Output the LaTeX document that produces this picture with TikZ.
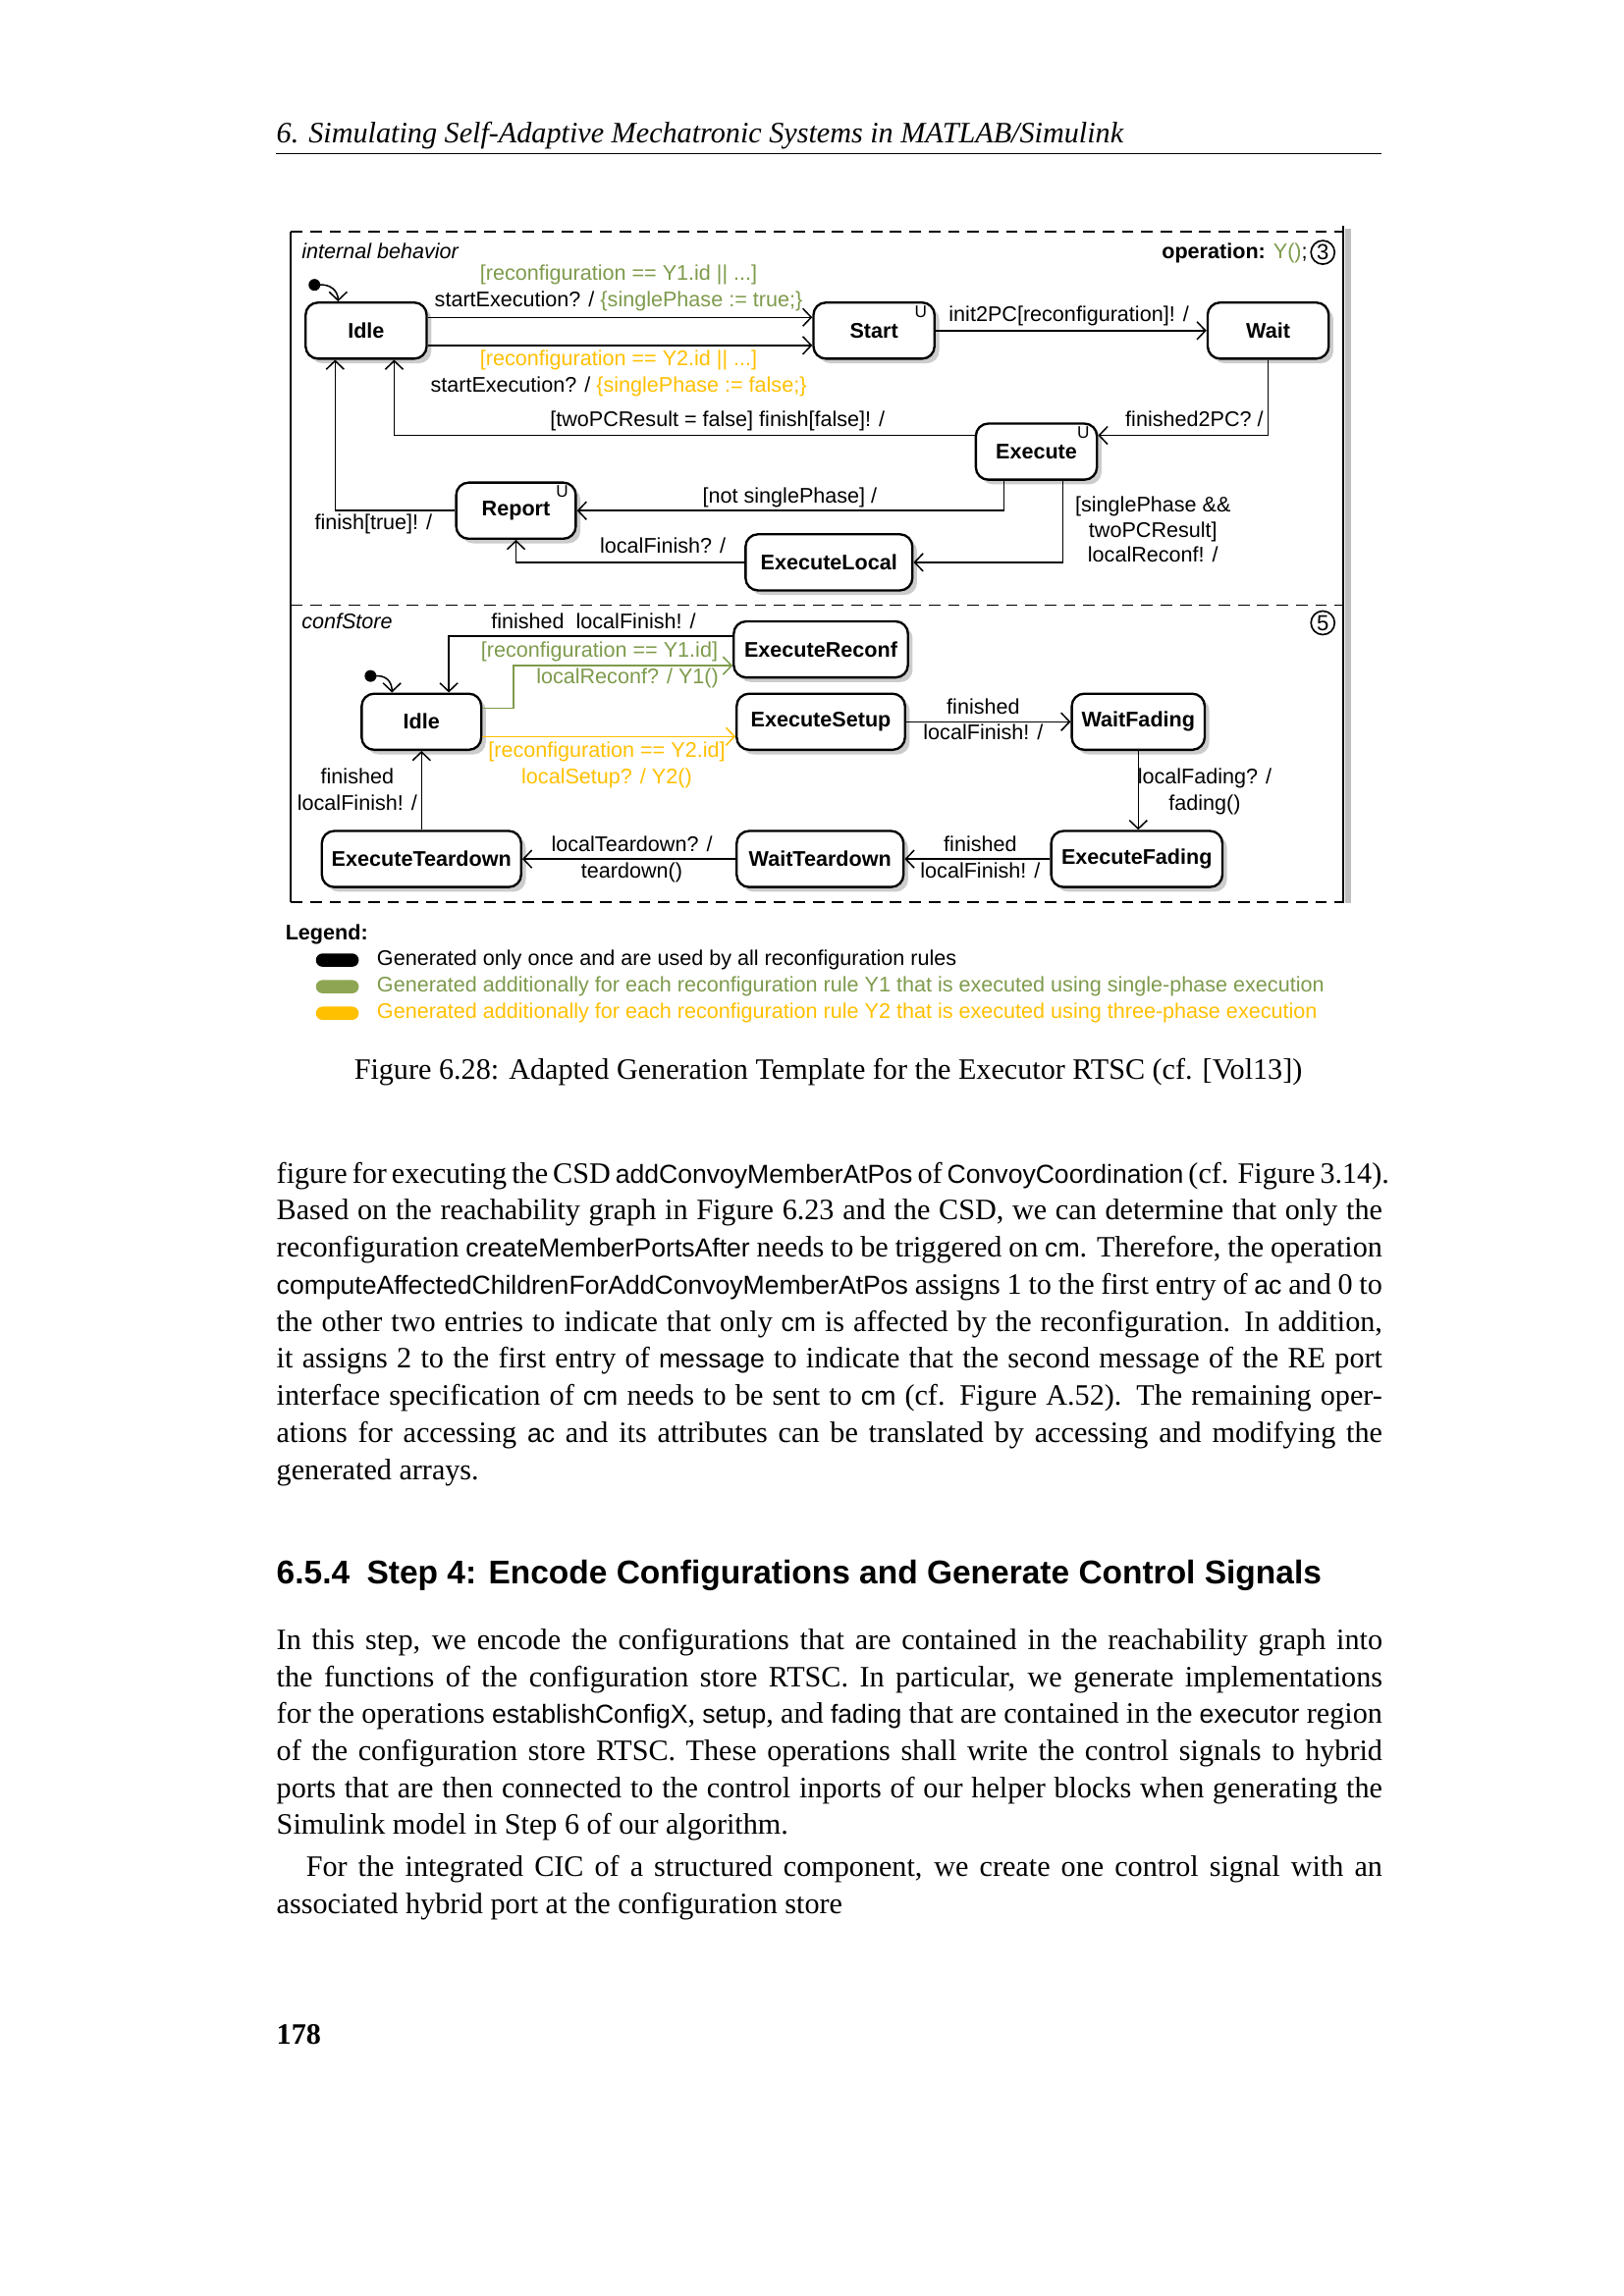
\documentclass[tikz,border=0pt]{standalone}
\usepackage{fontspec}
\setmainfont{Liberation Serif}
\setsansfont{Liberation Sans}
\usetikzlibrary{arrows.meta,shadows,calc}
\definecolor{ygreen}{RGB}{126,155,76}
\definecolor{pgreen}{RGB}{142,165,83}
\definecolor{yyel}{RGB}{255,192,0}
\newdimen\uu \uu=0.19096mm
\newcommand{\sw}[1]{{\sffamily\fontsize{9.6}{11}\selectfont #1}}
\newcommand{\bodyfont}{\fontsize{10.9}{13.5}\selectfont}
\tikzset{
  st/.style={draw, line width=0.85pt, rounded corners=1.6mm, fill=white, inner sep=0pt,
    minimum height=38\uu, font=\sffamily\bfseries\fontsize{7.8}{9}\selectfont,
    drop shadow={shadow xshift=0.6mm, shadow yshift=-0.6mm, fill=black!20, opacity=1}},
  tr/.style={line width=0.55pt, -{Straight Barb[length=1.1mm,width=2.3mm,line width=0.55pt]}},
  lab/.style={font=\sffamily\fontsize{7.8}{9.5}\selectfont, inner sep=0pt, anchor=base},
  umark/.style={font=\sffamily\fontsize{6.2}{7}\selectfont, inner sep=0pt},
  frame/.style={line width=0.7pt, dash pattern=on 1.5mm off 1mm},
  body/.style={font=\bodyfont, inner sep=0pt, anchor=base west},
  cnum/.style={circle, draw, line width=0.6pt, minimum size=16\uu, inner sep=0pt, font=\sffamily\fontsize{8}{9}\selectfont}
}
\begin{document}
\begin{tikzpicture}[x=0.19096mm, y=-0.19096mm]
\fill[white] (0,0) rectangle (1100,1555.6);
\path[use as bounding box] (0,0) rectangle (1100,1555.6);

% header
\node[body, font=\bodyfont\itshape] (hdr) at (187,97) {6. Simulating Self-Adaptive Mechatronic Systems in MATLAB/Simulink};
\draw[line width=0.4pt] (187,104) -- (936,104);

% frame
\fill[black!25] (911,155) rectangle (915,612);
\draw[line width=0.6pt] (197,157) -- (197,611);
\draw[line width=0.8pt] (910,153) -- (910,612);
\draw[frame] (197,157) -- (910,157);
\draw[frame] (197,410) -- (910,410);
\draw[frame] (197,611) -- (910,611);

% region 1 titles
\node[lab, anchor=base west, font=\sffamily\itshape\fontsize{7.8}{9.5}\selectfont] (ib) at (204,175) {internal behavior};
\node[cnum] (c3) at (896,171) {3};
\node[lab, anchor=base east] (op) at (886,175) {\bfseries operation: \mdseries\textcolor{ygreen}{Y()};};

% region 1 states
\node[st, minimum width=82\uu] (Idle) at (248,224) {Idle};
\node[st, minimum width=82\uu] (Start) at (592,224) {Start};
\node[st, minimum width=82\uu] (Wait) at (859,224) {Wait};
\node[st, minimum width=82\uu] (Execute) at (702,306) {Execute};
\node[st, minimum width=81\uu] (Report) at (349.5,346) {Report};
\node[st, minimum width=113\uu] (ExecuteLocal) at (561.5,381) {ExecuteLocal};
\node[umark] (uS) at ([xshift=-10\uu,yshift=-7\uu]Start.north east) {U};
\node[umark] (uE) at ([xshift=-10\uu,yshift=-7\uu]Execute.north east) {U};
\node[umark] (uR) at ([xshift=-10\uu,yshift=-7\uu]Report.north east) {U};

% initial
\fill (213,193) circle (4);
\coordinate (i1) at (215,193);
\draw[tr] (i1) .. controls +(9,-1) and +(0,-7) .. ([xshift=-19\uu]Idle.north);

% region 1 transitions
\draw[tr] ([yshift=9\uu]Idle.east) -- ([yshift=9\uu]Start.west);
\draw[tr] ([yshift=-10\uu]Idle.east) -- ([yshift=-10\uu]Start.west);
\draw[tr] (Start.east) -- (Wait.west);
\draw[tr] (Wait.south) |- ([yshift=11\uu]Execute.east);
\draw[tr] ([yshift=11\uu]Execute.west) -| ([xshift=19\uu]Idle.south);
\draw[tr] ([xshift=-22\uu]Execute.south) |- (Report.east);
\draw[tr] ([xshift=18\uu]Execute.south) |- (ExecuteLocal.east);
\draw[tr] (ExecuteLocal.west) -| (Report.south);
\draw[tr] (Report.west) -| ([xshift=-21\uu]Idle.south);

% region 1 labels
\node[lab, text=ygreen] (l1) at (419,190) {[reconfiguration == Y1.id || ...]};
\node[lab] (l2) at (419,208) {startExecution? / \textcolor{ygreen}{\{singlePhase := true;\}}};
\node[lab, text=yyel] (l3) at (419,248) {[reconfiguration == Y2.id || ...]};
\node[lab] (l4) at (419,266) {startExecution? / \textcolor{yyel}{\{singlePhase := false;\}}};
\node[lab] (l5) at (724,218) {init2PC[reconfiguration]! /};
\node[lab] (l6) at (809,289) {finished2PC? /};
\node[lab] (l7) at (486,289) {[twoPCResult = false] finish[false]! /};
\node[lab] (l8) at (535,341) {[not singlePhase] /};
\node[lab] (l9a) at (781,347) {[singlePhase \&\&};
\node[lab] (l9b) at (781,364) {twoPCResult]};
\node[lab] (l9c) at (781,381) {localReconf! /};
\node[lab] (l10) at (449,375) {localFinish? /};
\node[lab] (l11) at (253,359) {finish[true]! /};

% region 2 titles
\node[lab, anchor=base west, font=\sffamily\itshape\fontsize{7.8}{9.5}\selectfont] (cs) at (204,426) {confStore};
\node[cnum] (c5) at (896,422) {5};

% region 2 states
\node[st, minimum width=81\uu] (Idle2) at (285.5,489) {Idle};
\node[st, minimum width=118\uu] (ExecuteReconf) at (556,440) {ExecuteReconf};
\node[st, minimum width=114\uu] (ExecuteSetup) at (556,489) {ExecuteSetup};
\node[st, minimum width=90\uu] (WaitFading) at (771,489) {WaitFading};
\node[st, minimum width=116\uu] (ExecuteFading) at (770,582) {ExecuteFading};
\node[st, minimum width=113\uu] (WaitTeardown) at (555.5,582) {WaitTeardown};
\node[st, minimum width=135\uu] (ExecuteTeardown) at (285.5,582) {ExecuteTeardown};

% initial 2
\fill (251,458) circle (4);
\coordinate (i2) at (253,458);
\draw[tr] (i2) .. controls +(9,-1) and +(0,-7) .. ([xshift=-20\uu]Idle2.north);

% region 2 transitions
\draw[tr] ([yshift=9\uu]ExecuteReconf.west) -| ([xshift=18.5\uu]Idle2.north);
\draw[tr, draw=ygreen] ([yshift=9\uu]Idle2.east) -- ++(21,0) |- ([yshift=-11\uu]ExecuteReconf.west);
\draw[tr, draw=yyel] ([yshift=-10\uu]Idle2.east) -- ([yshift=-10\uu]ExecuteSetup.west);
\draw[tr] (ExecuteSetup.east) -- (WaitFading.west);
\draw[tr, line width=0.4pt] (WaitFading.south) -- (WaitFading.south |- ExecuteFading.north);
\draw[tr] (ExecuteFading.west) -- (WaitTeardown.east);
\draw[tr] (WaitTeardown.west) -- (ExecuteTeardown.east);
\draw[tr] (ExecuteTeardown.north) -- (Idle2.south);

% region 2 labels
\node[lab] (m1) at (402,426) {finished~~localFinish! /};
\node[lab, text=ygreen] (m2) at (406,445) {[reconfiguration == Y1.id]};
\node[lab, text=ygreen] (m3) at (425,463) {localReconf? / Y1()};
\node[lab, text=yyel] (m4) at (411,513) {[reconfiguration == Y2.id]};
\node[lab, text=yyel] (m5) at (411,531) {localSetup? / Y2()};
\node[lab] (m6) at (666,484) {finished};
\node[lab] (m7) at (666,501) {localFinish! /};
\node[lab] (m8) at (816,531) {localFading? /};
\node[lab] (m9) at (816,549) {fading()};
\node[lab] (m10) at (664,577) {finished};
\node[lab] (m11) at (664,595) {localFinish! /};
\node[lab] (m12) at (428,577) {localTeardown? /};
\node[lab] (m13) at (428,595) {teardown()};
\node[lab] (m14) at (242,531) {finished};
\node[lab] (m15) at (242,549) {localFinish! /};

% legend
\node[lab, anchor=base west, font=\sffamily\bfseries\fontsize{7.8}{9.5}\selectfont] (leg) at (193,637) {Legend:};
\fill[black, rounded corners=0.85mm] (214,646) rectangle (243,655);
\fill[pgreen, rounded corners=0.85mm] (214,664) rectangle (243,673);
\fill[yyel, rounded corners=0.85mm] (214,682) rectangle (243,691);
\node[lab, anchor=base west] (lg1) at (255,654) {Generated only once and are used by all reconfiguration rules};
\node[lab, anchor=base west, text=ygreen] (lg2) at (255,672) {Generated additionally for each reconfiguration rule Y1 that is executed using single-phase execution};
\node[lab, anchor=base west, text=yyel] (lg3) at (255,690) {Generated additionally for each reconfiguration rule Y2 that is executed using three-phase execution};

% caption
\node[inner sep=0pt, anchor=base, font=\bodyfont] (cap) at (561,731.5) {Figure 6.28: Adapted Generation Template for the Executor RTSC (cf. [Vol13])};

% paragraph 1
\node[body] (p1) at (187,801.5) {\makebox[749\uu][s]{figure for executing the CSD \sw{addConvoyMemberAtPos} of \sw{ConvoyCoordination} (cf. Figure 3.14).}};
\node[body] (p2) at (187,826.6) {\makebox[749\uu][s]{Based on the reachability graph in Figure 6.23 and the CSD, we can determine that only the}};
\node[body] (p3) at (187,851.7) {\makebox[749\uu][s]{reconfiguration \sw{createMemberPortsAfter} needs to be triggered on \sw{cm}. Therefore, the operation}};
\node[body] (p4) at (187,876.8) {\makebox[749\uu][s]{\sw{computeAffectedChildrenForAddConvoyMemberAtPos} assigns 1 to the first entry of \sw{ac} and 0 to}};
\node[body] (p5) at (187,901.9) {\makebox[749\uu][s]{the other two entries to indicate that only \sw{cm} is affected by the reconfiguration. In addition,}};
\node[body] (p6) at (187,927.0) {\makebox[749\uu][s]{it assigns 2 to the first entry of \sw{message} to indicate that the second message of the RE port}};
\node[body] (p7) at (187,952.1) {\makebox[749\uu][s]{interface specification of \sw{cm} needs to be sent to \sw{cm} (cf. Figure A.52). The remaining oper-}};
\node[body] (p8) at (187,977.2) {\makebox[749\uu][s]{ations for accessing \sw{ac} and its attributes can be translated by accessing and modifying the}};
\node[body] (p9) at (187,1002.3) {generated arrays.};

% heading
\node[body, font=\sffamily\bfseries\fontsize{12.1}{14}\selectfont] (sec) at (187,1073) {6.5.4\hspace{2.2mm}Step 4: Encode Configurations and Generate Control Signals};

% paragraph 2
\node[body] (q1) at (187,1117.5) {\makebox[749\uu][s]{In this step, we encode the configurations that are contained in the reachability graph into}};
\node[body] (q2) at (187,1142.6) {\makebox[749\uu][s]{the functions of the configuration store RTSC. In particular, we generate implementations}};
\node[body] (q3) at (187,1167.7) {\makebox[749\uu][s]{for the operations \sw{establishConfigX}, \sw{setup}, and \sw{fading} that are contained in the \sw{executor} region}};
\node[body] (q4) at (187,1192.8) {\makebox[749\uu][s]{of the configuration store RTSC. These operations shall write the control signals to hybrid}};
\node[body] (q5) at (187,1217.9) {\makebox[749\uu][s]{ports that are then connected to the control inports of our helper blocks when generating the}};
\node[body] (q6) at (187,1243.0) {Simulink model in Step 6 of our algorithm.};
\node[body] (q7) at (207,1271.5) {\makebox[729\uu][s]{For the integrated CIC of a structured component, we create one control signal with an}};
\node[body] (q8) at (187,1296.6) {associated hybrid port at the configuration store};

% page number
\node[body, font=\bodyfont\bfseries] (pg) at (187,1385) {178};
\end{tikzpicture}
\end{document}
